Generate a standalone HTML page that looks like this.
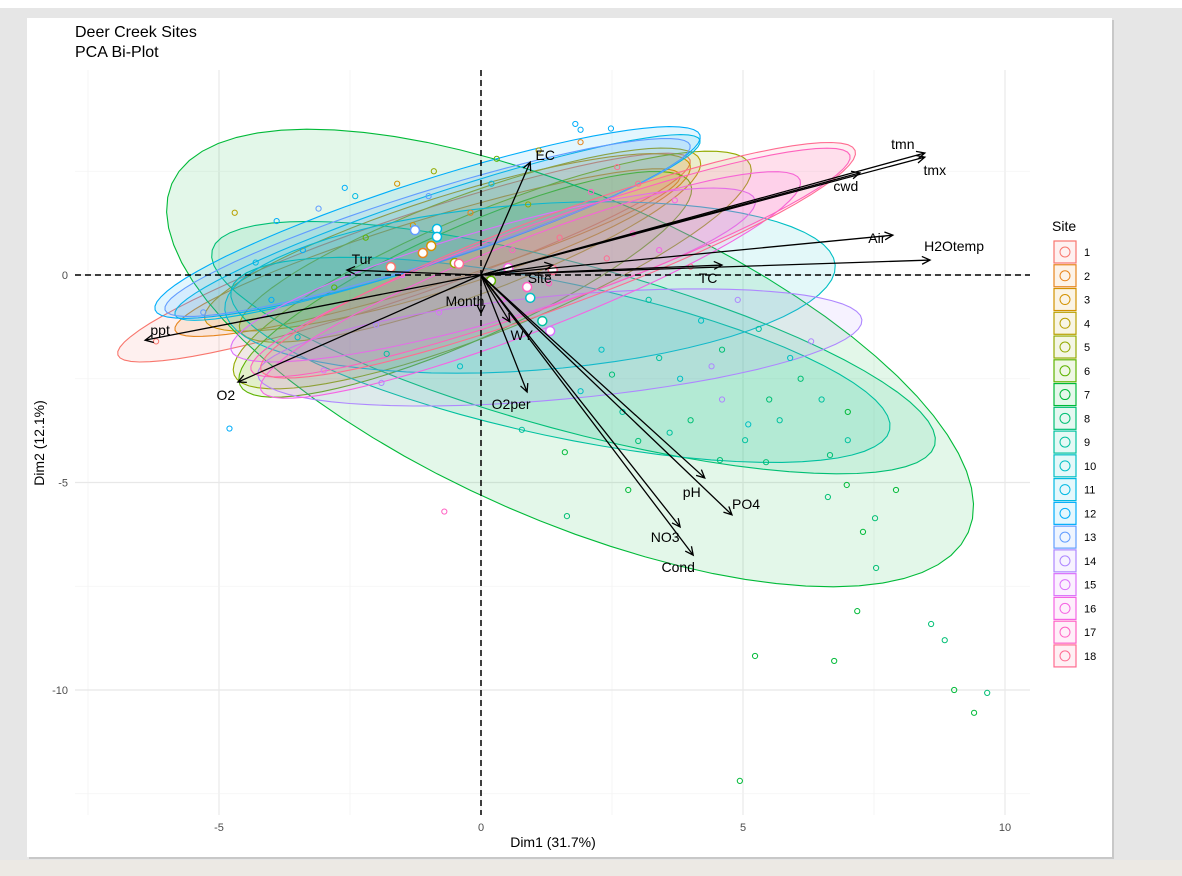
<!DOCTYPE html>
<html><head><meta charset="utf-8"><style>
body{margin:0;background:#e6e6e6;width:1182px;height:876px;overflow:hidden;font-family:"Liberation Sans",sans-serif}
svg{display:block}
</style></head><body>
<svg id="chart" width="1182" height="876" xmlns="http://www.w3.org/2000/svg" font-family="Liberation Sans, sans-serif">
<rect x="0" y="0" width="1182" height="876" fill="#e6e6e6"/>
<rect x="0" y="0" width="1182" height="8" fill="#ffffff"/>
<rect x="0" y="860" width="1182" height="16" fill="#ece9e4"/>
<rect x="29" y="20" width="1085" height="839" fill="#c8c8c8"/>
<rect x="27" y="18" width="1085" height="839" fill="#ffffff"/>
<text x="75" y="37" font-size="16" fill="#000">Deer Creek Sites</text>
<text x="75" y="57" font-size="16" fill="#000">PCA Bi-Plot</text>
<g id="grid"></g>
<g id="ellipses"></g>
<g id="points"></g>
<g id="refl"></g>
<g id="arrows"></g>
<g id="axes"></g>
<g id="legend"></g>
</svg>
<script>
// ---- data ----
const xTicks=[-5,0,5,10];
const yTicks=[0,-5,-10];
const siteColors=["#F8766D","#E7851E","#D39200","#B79F00","#93AA00","#5EB300","#00BA38","#00BF74","#00C19F","#00BFC4","#00B9E3","#00ADFA","#619CFF","#AE87FF","#DB72FB","#F564E3","#FF61C3","#FF6C91"];
const siteNames=["1","2","3","4","5","6","7","8","9","10","11","12","13","14","15","16","17","18"];
// ellipse major-axis endpoints (data units) and minor semi-axis (data units)
const ellX1=[-6.93,-5.84,-5.27,-4.60,-4.71,-4.60,-5.90,-5.13,-4.77,-4.89,-5.84,-6.22,-6.03,-4.26,-4.77,-4.20,-4.39,-4.20];
const ellY1=[-1.93,-1.33,-1.08,-1.33,-2.41,-2.65,2.20,0.60,-0.36,-0.84,-0.96,-0.84,-0.84,-2.41,-1.81,-2.77,-2.29,-2.29];
const ellX2=[3.99,3.80,3.99,4.18,5.14,4.00,9.30,8.66,7.80,6.76,4.18,4.18,3.99,7.27,5.23,6.09,7.04,7.14];
const ellY2=[2.77,2.41,2.65,2.77,2.65,2.20,-6.20,-4.10,-3.73,0.24,3.25,3.37,3.13,-1.08,1.81,2.29,2.89,3.00];
const ellW=[0.95,0.80,1.10,1.20,1.45,1.35,3.90,2.00,1.85,2.00,0.80,1.00,0.85,1.25,1.10,1.10,1.00,1.10];
// variable loadings
const varNames=["tmn","tmx","cwd","Air","H2Otemp","TC","Site","EC","Tur","ppt","O2","Month","WY","O2per","pH","PO4","NO3","Cond"];
const varX=[8.47,8.47,7.23,7.86,8.57,4.60,1.37,0.94,-2.56,-6.41,-4.64,0.00,0.55,0.88,4.27,4.79,3.80,4.05];
const varY=[2.94,2.84,2.46,0.96,0.36,0.24,0.24,2.72,0.12,-1.57,-2.58,-0.92,-1.13,-2.82,-4.89,-5.78,-6.07,-6.75];
// individual observations
const ptX=[5.23,6.74,8.59,8.85,9.03,9.66,9.41,4.94,7.18,7.54,7.29,7.92,7.52,6.62,6.98,6.66,7.00,5.44,5.04,4.56,2.81,1.64,1.60,0.78,3.2,4.2,4.6,5.3,6.1,3.8,2.7,5.5,6.5,4.9,2.3,4.0,5.7,3.0,7.0,4.6,1.9,3.4,5.9,6.3,3.6,2.5,4.4,5.1,
 -4.8,1.80,1.90,2.48,-6.2,-0.7,-3.9,-3.1,-2.4,-1.6,-0.9,0.3,1.1,1.9,2.6,-4.3,-3.4,-2.2,-1.3,-0.2,0.9,2.1,3.0,3.7,-5.3,-4.0,-2.8,-1.5,-0.5,0.6,1.5,-3.5,-2.0,-0.8,0.4,1.3,2.4,-4.7,-2.6,-1.0,0.2,-3.0,-1.8,2.9,3.4,4.0,-1.9,-0.4];
const ptY=[-9.18,-9.30,-8.41,-8.80,-10.0,-10.07,-10.55,-12.19,-8.10,-7.06,-6.19,-5.18,-5.86,-5.35,-5.06,-4.34,-3.98,-4.51,-3.98,-4.46,-5.18,-5.81,-4.27,-3.73,-0.6,-1.1,-1.8,-1.3,-2.5,-2.5,-3.3,-3.0,-3.0,-0.6,-1.8,-3.5,-3.5,-4.0,-3.3,-3.0,-2.8,-2.0,-2.0,-1.6,-3.8,-2.4,-2.2,-3.6,
 -3.7,3.64,3.5,3.53,-1.6,-5.7,1.3,1.6,1.9,2.2,2.5,2.8,3.0,3.2,2.6,0.3,0.6,0.9,1.2,1.5,1.7,2.0,2.2,1.8,-0.9,-0.6,-0.3,0.0,0.3,0.6,0.9,-1.5,-1.2,-0.9,-0.6,-0.2,0.4,1.5,2.1,1.9,2.2,-2.3,-1.9,1.0,0.6,0.2,-2.6,-2.2];
const ptSite=[7,7,8,8,7,8,7,7,7,8,7,7,8,8,7,8,9,8,9,8,7,8,7,9,9,10,8,9,8,10,9,8,9,14,10,8,9,8,7,14,10,9,10,14,9,8,14,10,
 12,12,12,12,1,17,12,13,11,3,5,6,4,2,18,11,12,6,3,2,5,17,18,16,13,12,6,15,16,17,18,10,14,15,16,17,18,4,12,13,11,15,9,17,16,18,14,10];
// site centroids (larger white-filled marks)
const cenX=[-1.26,-0.84,-0.84,-0.95,-1.11,-1.72,-0.50,-0.42,0.19,0.88,0.94,1.17,1.32,1.37,0.52];
const cenY=[1.08,1.11,0.92,0.70,0.53,0.19,0.29,0.27,-0.14,-0.29,-0.55,-1.11,-1.35,0.12,0.17];
const cenSite=[13,11,11,3,2,1,5,18,6,17,10,9,15,18,16];

// ---- scales ----
const sx=v=>481+v*52.4, sy=v=>275-v*41.5;
const NS="http://www.w3.org/2000/svg";
function mk(tag,attrs,parent){const e=document.createElementNS(NS,tag);for(const k in attrs)e.setAttribute(k,attrs[k]);parent.appendChild(e);return e;}
const L=75,R=1030,T=70,B=815;
const grid=document.getElementById('grid');
[-7.5,-5,-2.5,0,2.5,5,7.5,10].forEach(v=>{const l=mk('line',{x1:sx(v),x2:sx(v),y1:T,y2:B,stroke:Number.isInteger(v)?'#e8e8e8':'#f3f3f3','stroke-width':Number.isInteger(v)?1.2:0.8},grid);

});
[2.5,0,-2.5,-5,-7.5,-10,-12.5].forEach(v=>{const l=mk('line',{x1:L,x2:R,y1:sy(v),y2:sy(v),stroke:Number.isInteger(v)?'#e8e8e8':'#f3f3f3','stroke-width':Number.isInteger(v)?1.2:0.8},grid);

});

// ellipses
const eg=document.getElementById('ellipses');
for(let i=0;i<ellX1.length;i++){
  const cx=(ellX1[i]+ellX2[i])/2, cy=(ellY1[i]+ellY2[i])/2;
  const ux=(ellX2[i]-ellX1[i])/2, uy=(ellY2[i]-ellY1[i])/2;
  const pux=ux*52.4, puy=-uy*41.5, n=Math.hypot(pux,puy);
  const wpx=ellW[i]*41.5;
  const vx=(-puy/n)*wpx/52.4, vy=-(pux/n)*wpx/41.5;
  let d='';
  for(let k=0;k<=72;k++){const t=k/72*2*Math.PI;
    const X=sx(cx+Math.cos(t)*ux+Math.sin(t)*vx), Y=sy(cy+Math.cos(t)*uy+Math.sin(t)*vy);
    d+=(k?'L':'M')+X.toFixed(1)+','+Y.toFixed(1);}
  const p=mk('path',{d:d+'Z',fill:siteColors[i],'fill-opacity':0.11,stroke:siteColors[i],'stroke-width':1.1},eg);
  
  
}
// points
const pg=document.getElementById('points');
for(let i=0;i<ptX.length;i++){
  const c=mk('circle',{cx:sx(ptX[i]),cy:sy(ptY[i]),r:2.6,fill:'none',stroke:siteColors[ptSite[i]-1],'stroke-width':1},pg);
  
  
}
for(let i=0;i<cenX.length;i++){
  const c=mk('circle',{cx:sx(cenX[i]),cy:sy(cenY[i]),r:4.5,fill:'#fff',stroke:siteColors[cenSite[i]-1],'stroke-width':1.5},pg);
  
  
}
// reference lines
const rg=document.getElementById('refl');
const h=mk('line',{x1:L,x2:R,y1:sy(0),y2:sy(0),stroke:'#000','stroke-width':1.5,'stroke-dasharray':'6,4'},rg);


const v=mk('line',{x1:sx(0),x2:sx(0),y1:T,y2:B,stroke:'#000','stroke-width':1.5,'stroke-dasharray':'6,4'},rg);


// arrows
const ag=document.getElementById('arrows');
const lblDX=[-22,10,-14,-16,24,-14,-13,15,15,15,-12,-16,12,-16,-13,14,-15,-15];
const lblDY=[-9,13,13,3,-14,13,13,-7,-11,-10,13,-12,13,12,14,-11,10,12];
for(let i=0;i<varNames.length;i++){
  const x1=sx(0),y1=sy(0),x2=sx(varX[i]),y2=sy(varY[i]);
  const a=Math.atan2(y2-y1,x2-x1),s=9,w=0.45;
  const ln=mk('path',{d:`M${x1},${y1}L${x2},${y2}M${x2-s*Math.cos(a-w)},${y2-s*Math.sin(a-w)}L${x2},${y2}L${x2-s*Math.cos(a+w)},${y2-s*Math.sin(a+w)}`,stroke:'#000','stroke-width':1.3,fill:'none'},ag);
  
  
  const t=mk('text',{x:x2+lblDX[i],y:y2+lblDY[i]+5,'font-size':14,'text-anchor':'middle',fill:'#000'},ag);
  t.textContent=varNames[i];
  
  
}
// axes labels
const ax=document.getElementById('axes');
xTicks.forEach(val=>{const t=mk('text',{x:sx(val),y:831,'font-size':11,'text-anchor':'middle',fill:'#4d4d4d'},ax);t.textContent=val;

});
yTicks.forEach(val=>{const t=mk('text',{x:68,y:sy(val)+4,'font-size':11,'text-anchor':'end',fill:'#4d4d4d'},ax);t.textContent=val;

});
const xt=mk('text',{x:553,y:847,'font-size':14,'text-anchor':'middle',fill:'#000'},ax);xt.textContent='Dim1 (31.7%)';


const yt=mk('text',{x:0,y:0,'font-size':14,'text-anchor':'middle',fill:'#000',transform:'translate(44,443) rotate(-90)'},ax);yt.textContent='Dim2 (12.1%)';


// legend
const lg=document.getElementById('legend');
const lt=mk('text',{x:1052,y:231,'font-size':14,fill:'#000'},lg);lt.textContent='Site';


for(let i=0;i<siteNames.length;i++){
  const cy=252+i*23.76;
  const g=mk('g',{},lg);
  
  
  mk('rect',{x:1054,y:cy-11,width:22,height:22,fill:siteColors[i],'fill-opacity':0.1,stroke:siteColors[i],'stroke-width':1.2},g);
  mk('circle',{cx:1065,cy:cy,r:5,fill:'none',stroke:siteColors[i],'stroke-width':1},g);
  const t=mk('text',{x:1084,y:cy+4,'font-size':11,fill:'#000'},g);t.textContent=siteNames[i];
}
</script>
</body></html>
